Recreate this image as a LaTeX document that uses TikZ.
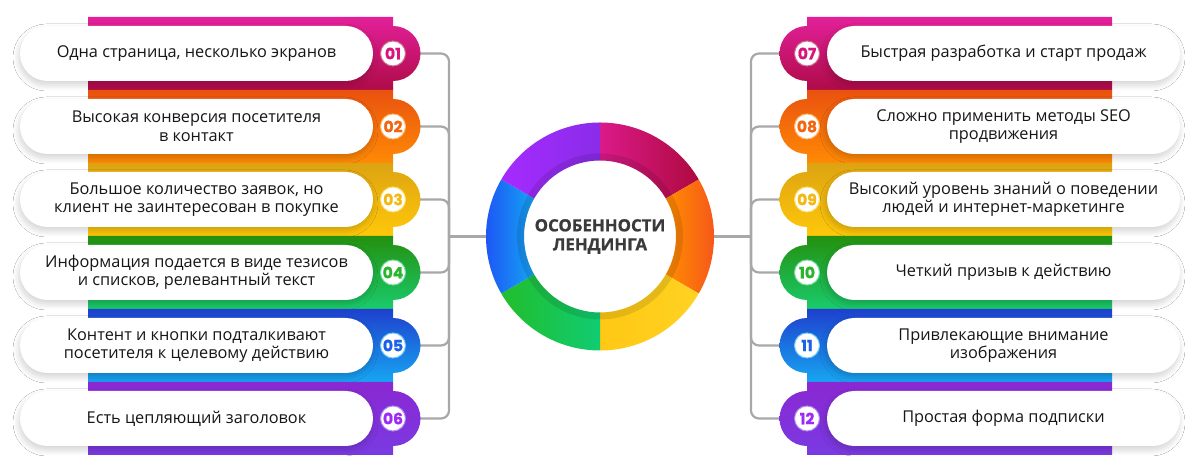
\documentclass[tikz,border=0pt]{standalone}
\usepackage{fontspec}
\setmainfont{Open Sans}
\newfontfamily\numfont{Poppins}[BoldFeatures={FakeBold=1}]
\newfontfamily\titlefont{Open Sans}[BoldFeatures={FakeBold=1}]
\usetikzlibrary{backgrounds, shadows.blur}

% couleurs des bandes (haut / bas) et des numéros
\definecolor{bandtop1}{HTML}{E3209A} \definecolor{bandbot1}{HTML}{AE0B47} \definecolor{num1}{HTML}{D8157F}
\definecolor{bandtop2}{HTML}{E9520F} \definecolor{bandbot2}{HTML}{FF8A05} \definecolor{num2}{HTML}{F26511}
\definecolor{bandtop3}{HTML}{DDA312} \definecolor{bandbot3}{HTML}{FFC80A} \definecolor{num3}{HTML}{F4B912}
\definecolor{bandtop4}{HTML}{24900F} \definecolor{bandbot4}{HTML}{1ACB6C} \definecolor{num4}{HTML}{2BB52F}
\definecolor{bandtop5}{HTML}{1E40CE} \definecolor{bandbot5}{HTML}{17A6F2} \definecolor{num5}{HTML}{1B62E8}
\definecolor{bandtop6}{HTML}{8A28D2} \definecolor{bandbot6}{HTML}{7A3AE2} \definecolor{num6}{HTML}{9D2AF7}
% couleurs de l'anneau
\definecolor{segmagl}{HTML}{DB1A8A} \definecolor{segmagr}{HTML}{AE0A40}
\definecolor{segorgl}{HTML}{FF8E00} \definecolor{segorgr}{HTML}{F5521C}
\definecolor{segyell}{HTML}{FFC814} \definecolor{segyelr}{HTML}{FFD222}
\definecolor{seggrnl}{HTML}{22BD2C} \definecolor{seggrnr}{HTML}{10CC72}
\definecolor{segblul}{HTML}{1F4FF5} \definecolor{segblur}{HTML}{14A5F3}
\definecolor{segpurl}{HTML}{A52BFF} \definecolor{segpurr}{HTML}{8A2CE8}
\definecolor{textdark}{HTML}{161616}
\definecolor{titlegray}{HTML}{3A3A3A}
\definecolor{linegray}{HTML}{A8A8A8}

\begin{document}
\begin{tikzpicture}[
    x=1pt, y=1pt,
    % styles
    pill/.style   = {rectangle, rounded corners=27.5pt, fill=white, minimum width=353pt,
                     minimum height=55pt, inner sep=0pt, align=center, text=textdark,
                     font=\fontsize{16.3}{18.5}\selectfont,
                     blur shadow={shadow xshift=-1pt, shadow yshift=-4pt, shadow opacity=18,
                                  shadow blur radius=6pt, shadow blur steps=10}},
    badge/.style  = {circle, fill=white, minimum size=25pt, inner sep=0pt,
                     font=\numfont\bfseries\fontsize{15.5}{15.5}\selectfont},
    conn/.style   = {line width=2.2pt, draw=linegray, rounded corners=8pt},
    title/.style  = {align=center, text=titlegray, font=\titlefont\bfseries\fontsize{16.8}{19}\selectfont},
]
\useasboundingbox (0,0) rectangle (1200,470);

% ── Colonne gauche : 01 à 06 ────────────────────────────────────────────────
\foreach \i/\num/\txt in {
    1/01/{Одна страница, несколько экранов},
    2/02/{Высокая конверсия посетителя\\в контакт},
    3/03/{Большое количество заявок, но\\клиент не заинтересован в покупке},
    4/04/{Информация подается в виде тезисов\\и списков, релевантный текст},
    5/05/{Контент и кнопки подталкивают\\посетителя к целевому действию},
    6/06/{Есть цепляющий заголовок}} {
  \pgfmathsetmacro\yc{416.5-73*(\i-1)}
  \shade[top color=bandtop\i, bottom color=bandbot\i]
    (88,\yc+36.5) -- (393,\yc+36.5) -- (393,\yc+27.5)
    arc[start angle=90, end angle=-90, radius=27.5]
    -- (393,\yc-36.5) -- (88,\yc-36.5) -- cycle;
  \node[pill] (p\i) at (196.5,\yc) {\txt};
  \node[badge, text=num\i, draw=bandbot\i!60, line width=1pt] (b\i) at (393,\yc) {\num};
}

% ── Colonne droite : 07 à 12 ────────────────────────────────────────────────
\foreach \i/\k/\num/\txt in {
    7/1/07/{Быстрая разработка и старт продаж},
    8/2/08/{Сложно применить методы SEO\\продвижения},
    9/3/09/{Высокий уровень знаний о поведении\\людей и интернет-маркетинге},
    10/4/10/{Четкий призыв к действию},
    11/5/11/{Привлекающие внимание\\изображения},
    12/6/12/{Простая форма подписки}} {
  \pgfmathsetmacro\yc{416.5-73*(\k-1)}
  \shade[top color=bandtop\k, bottom color=bandbot\k]
    (1112,\yc+36.5) -- (807,\yc+36.5) -- (807,\yc+27.5)
    arc[start angle=90, end angle=270, radius=27.5]
    -- (807,\yc-36.5) -- (1112,\yc-36.5) -- cycle;
  \node[pill] (p\i) at (1003.5,\yc) {\txt};
  \node[badge, text=num\k, draw=bandbot\k!60, line width=1pt] (b\i) at (807,\yc) {\num};
}

% ── Anneau central ──────────────────────────────────────────────────────────
\coordinate (ctr) at (600,233.5);
\foreach \a/\b/\cl/\cr in {90/30/segmagl/segmagr, 30/-30/segorgl/segorgr,
    -30/-90/segyell/segyelr, -90/-150/seggrnl/seggrnr,
    210/150/segblul/segblur, 150/90/segpurl/segpurr} {
  \shade[left color=\cl, right color=\cr]
    ([shift={(ctr)}]\a:114) arc[start angle=\a, end angle=\b, radius=114]
    -- ([shift={(ctr)}]\b:76) arc[start angle=\b, end angle=\a, radius=76] -- cycle;
}
\fill[black, opacity=0.1, even odd rule] (ctr) circle[radius=83] (ctr) circle[radius=76];
\node[circle, minimum size=228pt, inner sep=0pt] (ring) at (ctr) {};
\node[title] (titre) at (ctr) {ОСОБЕННОСТИ\\ЛЕНДИНГА};

% ── Connecteurs ─────────────────────────────────────────────────────────────
\coordinate (jl) at (449,233.5);
\coordinate (jr) at (751,233.5);
\begin{scope}[on background layer]
  \fill[white] (0,0) rectangle (1200,470);
  \foreach \i in {1,...,6}  \draw[conn] (b\i) -| (jl);
  \foreach \i in {7,...,12} \draw[conn] (b\i) -| (jr);
  \draw[conn] (jl) -- (ring.west);
  \draw[conn] (jr) -- (ring.east);
\end{scope}

\end{tikzpicture}
\end{document}
